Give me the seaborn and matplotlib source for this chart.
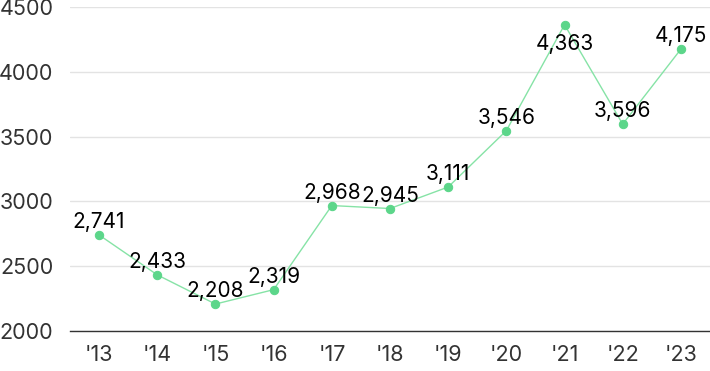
import matplotlib
matplotlib.use("Agg")
import matplotlib.pyplot as plt
import seaborn as sns
import pandas as pd

# chart data
years = ["'13", "'14", "'15", "'16", "'17", "'18", "'19", "'20", "'21", "'22", "'23"]
values = [2741, 2433, 2208, 2319, 2968, 2945, 3111, 3546, 4363, 3596, 4175]
y_ticks = [2000, 2500, 3000, 3500, 4000, 4500]
labels_below = ["'21"]  # peak label sits under its point

LINE_COLOR = "#86e3a6"
DOT_COLOR = "#5cd68a"

sns.set_theme(style="white")
plt.rcParams['font.family'] = ['Inter', 'DejaVu Sans']

df = pd.DataFrame({"year": years, "value": values})
df["pos"] = range(len(df))

fig = plt.figure(figsize=(7.1, 3.71), dpi=100)
ax = fig.add_axes([70 / 710, 1 - 331 / 371, 640 / 710, 324 / 371])

sns.lineplot(data=df, x="pos", y="value", ax=ax, color=LINE_COLOR, linewidth=1,
             marker="o", markersize=6, markerfacecolor=DOT_COLOR,
             markeredgecolor=DOT_COLOR, zorder=3)

for _, row in df.iterrows():
    if row["year"] in labels_below:
        offset, va = (0, -7), "top"
    else:
        offset, va = (0, 5), "baseline"
    ax.annotate(f"{row['value']:,}", (row["pos"], row["value"]),
                xytext=offset, textcoords="offset points",
                ha="center", va=va, fontsize=15, color="#000000", zorder=4)

ax.set_xlim(-0.5, len(years) - 0.5)
ax.set_ylim(2000, 4500)
ax.set_xticks(df["pos"])
ax.set_xticklabels(years)
ax.set_yticks(y_ticks)
ax.set_xlabel("")
ax.set_ylabel("")

ax.grid(axis="y", color="#e3e3e3", linewidth=1)
ax.set_axisbelow(True)
for side in ["top", "right", "left"]:
    ax.spines[side].set_visible(False)
ax.spines["bottom"].set_color("#333333")
ax.spines["bottom"].set_linewidth(1)
ax.tick_params(axis="both", length=0, labelsize=15.5, colors="#333333")
ax.tick_params(axis="x", pad=10)
ax.tick_params(axis="y", pad=12)

fig.savefig("out.png", dpi=100)
